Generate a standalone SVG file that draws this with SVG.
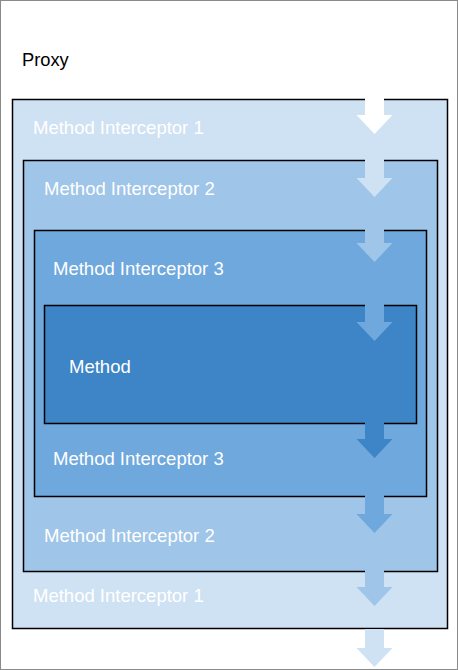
<svg xmlns="http://www.w3.org/2000/svg" width="458" height="670" viewBox="0 0 458 670">
  <style>
    .box { stroke: #000; stroke-width: 1.5; }
    .lbl { font-family: "Liberation Sans", Arial, sans-serif; font-size: 18.5px; fill: #fff; }
    .title { font-family: "Liberation Sans", Arial, sans-serif; font-size: 18.3px; fill: #000; }
  </style>
  <defs>
    <!-- downward flow arrow, origin at the tip -->
    <path id="flow" d="M-9.5,-38 L9.5,-38 L9.5,-19 L18,-19 L0,0 L-18,-19 L-9.5,-19 Z"/>
  </defs>

  <rect x="0" y="0" width="458" height="670" fill="#fff"/>
  <rect x="0.5" y="0.5" width="457" height="669" fill="none" stroke="#8a8a8a" stroke-width="1"/>

  <g id="proxy">
    <text class="title" x="22" y="66">Proxy</text>
  </g>

  <g id="interceptor1">
    <rect class="box" x="12.5" y="99.5" width="435" height="529" fill="#cfe2f3"/>
    <text class="lbl" x="33" y="133.5">Method Interceptor 1</text>
    <text class="lbl" x="33" y="601.5">Method Interceptor 1</text>
  </g>

  <g id="interceptor2">
    <rect class="box" x="23.5" y="160.5" width="414" height="411" fill="#9fc5e8"/>
    <text class="lbl" x="44" y="194.5">Method Interceptor 2</text>
    <text class="lbl" x="44" y="541.5">Method Interceptor 2</text>
  </g>

  <g id="interceptor3">
    <rect class="box" x="34.5" y="230.5" width="392" height="266" fill="#6fa8dc"/>
    <text class="lbl" x="53" y="274.5">Method Interceptor 3</text>
    <text class="lbl" x="53" y="464.5">Method Interceptor 3</text>
  </g>

  <g id="method">
    <rect class="box" x="44.5" y="305.5" width="372" height="118" fill="#3d85c6"/>
    <text class="lbl" x="69" y="372.5">Method</text>
  </g>

  <g id="connectors">
    <use href="#flow" x="374.5" y="134" fill="#ffffff"/>
    <use href="#flow" x="374.5" y="197" fill="#cfe2f3"/>
    <use href="#flow" x="374.5" y="262" fill="#9fc5e8"/>
    <use href="#flow" x="374.5" y="341" fill="#6fa8dc"/>
    <use href="#flow" x="374.5" y="458" fill="#3d85c6"/>
    <use href="#flow" x="374.5" y="533" fill="#6fa8dc"/>
    <use href="#flow" x="374.5" y="606" fill="#9fc5e8"/>
    <use href="#flow" x="374.5" y="667" fill="#cfe2f3"/>
  </g>
</svg>
